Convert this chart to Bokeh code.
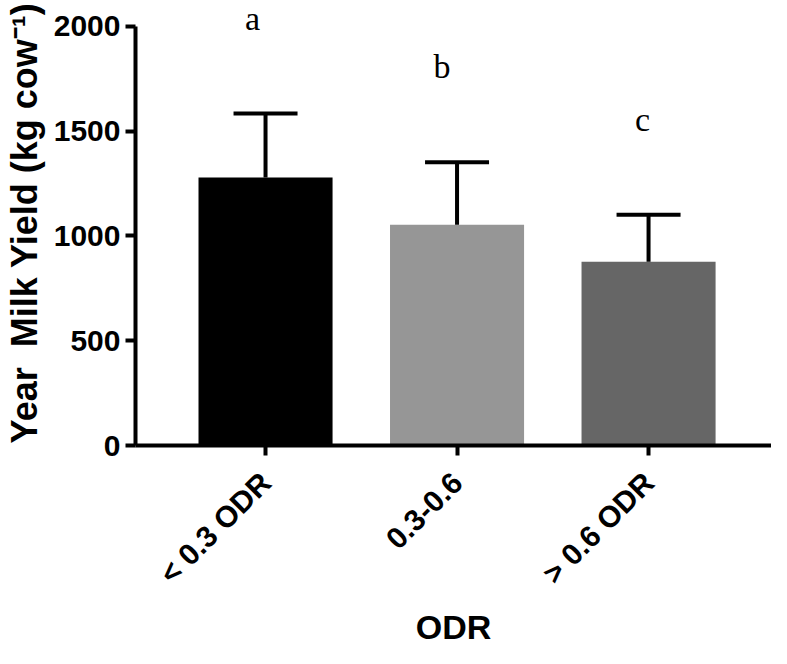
import math
from bokeh.plotting import figure
from bokeh.models import (ColumnDataSource, Whisker, TeeHead, FixedTicker,
                          LabelSet, Range1d)
from bokeh.embed import file_html
from bokeh.resources import INLINE

# ---- data ----
categories = ["< 0.3 ODR", "0.3-0.6", "> 0.6 ODR"]
mean_yield = [1278, 1053, 877]
sd_yield = [306, 298, 224]
letters = ["a", "b", "c"]
y_ticks = [0, 500, 1000, 1500, 2000]

# ---- styles ----
bar_colors = ["#000000", "#969696", "#666666"]
letter_dx = [-13, -15, -6]
letter_gap = 400

xs = list(range(len(categories)))
upper = [m + s for m, s in zip(mean_yield, sd_yield)]
src = ColumnDataSource(dict(x=xs, mean=mean_yield, upper=upper,
                            color=bar_colors))
lab_src = ColumnDataSource(dict(x=xs, y=[u + letter_gap for u in upper],
                                text=letters, dx=letter_dx))

p = figure(width=771, height=648, output_backend="svg", toolbar_location=None,
           x_range=Range1d(-0.679, 2.642), y_range=Range1d(0, 2123),
           min_border_left=130, min_border_right=0, min_border_top=0,
           min_border_bottom=200)
p.outline_line_color = None
p.xgrid.visible = False
p.ygrid.visible = False
p.background_fill_color = "white"

p.vbar(x="x", top="mean", width=0.7, fill_color="color", line_color=None,
       source=src)

wh = Whisker(base="x", lower="mean", upper="upper", source=src,
             dimension="height", line_width=4, line_color="black",
             upper_head=TeeHead(size=64, line_width=4, line_color="black"),
             lower_head=None, level="glyph")
p.add_layout(wh)

labels = LabelSet(x="x", y="y", text="text", x_offset="dx", source=lab_src,
                  text_font="Liberation Serif", text_font_size="34px",
                  text_align="center", text_baseline="alphabetic",
                  text_color="black")
p.add_layout(labels)

font = "Liberation Sans"
for ax in (p.xaxis[0], p.yaxis[0]):
    ax.axis_line_width = 4
    ax.axis_line_color = "black"
    ax.major_tick_line_width = 4
    ax.major_tick_line_color = "black"
    ax.major_tick_out = 10
    ax.major_tick_in = 0
    ax.minor_tick_line_color = None
    ax.major_label_text_font = font
    ax.major_label_text_font_style = "bold"
    ax.major_label_text_color = "black"
    ax.axis_label_text_font = font
    ax.axis_label_text_font_style = "bold"
    ax.axis_label_text_color = "black"

p.yaxis.ticker = FixedTicker(ticks=y_ticks)
p.yaxis.bounds = (0, 2000)
p.yaxis.major_label_text_font_size = "30px"
p.yaxis.major_label_standoff = 5
p.yaxis.axis_label = "Year\u00a0 Milk Yield (kg cow\u207b\u00b9)"
p.yaxis.axis_label_text_font_size = "36px"
p.yaxis.axis_label_standoff = 6

p.xaxis.ticker = FixedTicker(ticks=xs)
p.xaxis.major_label_overrides = {i: c for i, c in enumerate(categories)}
p.xaxis.major_label_orientation = math.pi / 4
p.xaxis.major_label_text_font_size = "30px"
p.xaxis.major_label_standoff = 22
p.xaxis.axis_label = "ODR"
p.xaxis.axis_label_text_font_size = "34px"
p.xaxis.axis_label_standoff = 3

open("out.html", "w").write(file_html(p, INLINE))
